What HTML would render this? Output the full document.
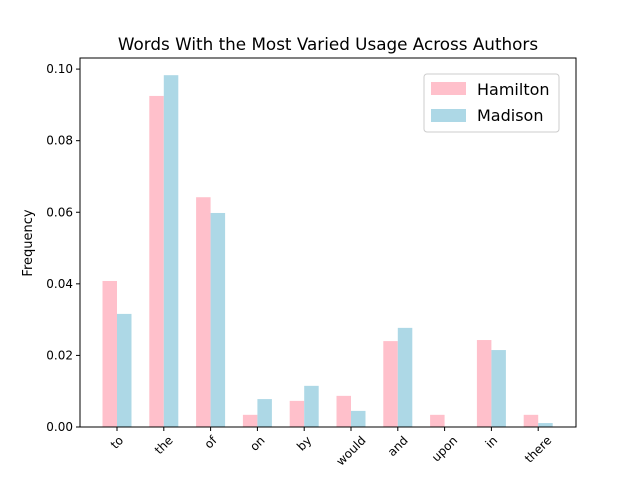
<!DOCTYPE html>
<html><head><meta charset="utf-8"><style>body{margin:0;background:#fff}svg{display:block;font-family:"DejaVu Sans","Liberation Sans",sans-serif}</style></head>
<body>
<svg id="chart" width="640" height="480" xmlns="http://www.w3.org/2000/svg">
<rect width="640" height="480" fill="#fff"/>
<text x="328" y="50" font-size="16.8" text-anchor="middle">Words With the Most Varied Usage Across Authors</text>
<text transform="translate(32,243) rotate(-90)" font-size="13" text-anchor="middle">Frequency</text>
<g id="bars"></g><g id="ticks"></g>
<rect x="80" y="58" width="496" height="369" fill="none" stroke="#000" stroke-width="1"/>
<g>
<rect x="424" y="74" width="135" height="58" rx="3" fill="#fff" stroke="#ccc"/>
<rect x="431" y="82" width="35" height="13" fill="pink"/>
<text x="477" y="95" font-size="16">Hamilton</text>
<rect x="431" y="109" width="35" height="13" fill="lightblue"/>
<text x="477" y="121" font-size="16">Madison</text>
</g>
</svg>
<script>
const categories=["to","the","of","on","by","would","and","upon","in","there"];
const hamilton=[0.0408,0.0925,0.0642,0.0034,0.0073,0.0087,0.0240,0.0034,0.0243,0.0034];
const madison=[0.0316,0.0983,0.0598,0.0078,0.0115,0.0045,0.0277,0.0,0.0215,0.0011];
const yTicks=[0,0.02,0.04,0.06,0.08,0.10];
const yTickLabels=["0.00","0.02","0.04","0.06","0.08","0.10"];
const NS="http://www.w3.org/2000/svg";
const x0=80,x1=576,y0=427,ymax=0.1031;
const y=v=>y0-v/ymax*(y0-58);
const step=46.8,first=117;
const xc=i=>first+i*step;
const bw=14.5;
const bars=document.getElementById('bars'),ticks=document.getElementById('ticks');
function mk(t,a,p){const e=document.createElementNS(NS,t);for(const k in a)e.setAttribute(k,a[k]);p.appendChild(e);return e;}
categories.forEach((c,i)=>{
  const h=mk('rect',{x:xc(i)-bw,y:y(hamilton[i]),width:bw,height:y0-y(hamilton[i]),fill:'pink'},bars);
  
  
  const m=mk('rect',{x:xc(i),y:y(madison[i]),width:bw,height:y0-y(madison[i]),fill:'lightblue'},bars);
  
  
  mk('line',{x1:xc(i),x2:xc(i),y1:y0,y2:y0+4,stroke:'#000'},ticks);
  const t=mk('text',{'font-size':12,'text-anchor':'middle','dominant-baseline':'central'},ticks);
  
  
  t.textContent=c;
  const w=t.getComputedTextLength();
  const cy=y0+7+(w+12)*0.7071/2;
  t.setAttribute('transform',`translate(${xc(i)},${cy}) rotate(-45)`);
});
yTicks.forEach((v,i)=>{
  mk('line',{x1:x0-4,x2:x0,y1:y(v),y2:y(v),stroke:'#000'},ticks);
  const t=mk('text',{x:x0-7,y:y(v)+4,'font-size':12,'text-anchor':'end'},ticks);
  
  
  t.textContent=yTickLabels[i];
});
</script>
</body></html>
